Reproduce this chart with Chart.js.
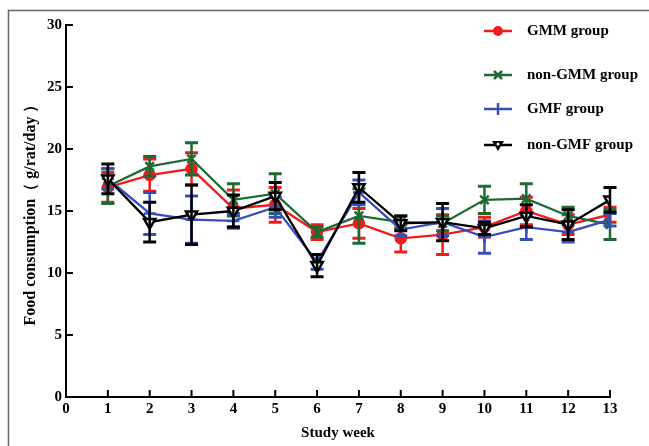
<!DOCTYPE html>
<html>
<head>
<meta charset="utf-8">
<script src="https://cdn.jsdelivr.net/npm/chart.js@4/dist/chart.umd.min.js"></script>
<style>
html,body{margin:0;padding:0;background:#fff;}
#wrap{width:649px;height:446px;position:relative;}
</style>
</head>
<body>
<div id="wrap"><canvas id="c" width="649" height="446"></canvas></div>
<script>
const weeks = [1,2,3,4,5,6,7,8,9,10,11,12,13];
const seriesNames = ['GMM group','non-GMM group','GMF group','non-GMF group'];
const gmmMean    = [16.9,17.9,18.4,15.2,15.5,13.3,14.0,12.8,13.1,13.7,15.0,13.9,14.7];
const gmmSD      = [1.2,1.3,1.3,1.5,1.4,0.6,1.2,1.1,1.6,0.8,1.1,0.8,0.6];
const nonGmmMean = [17.0,18.6,19.2,15.9,16.4,13.3,14.6,14.1,14.0,15.9,16.0,14.6,13.9];
const nonGmmSD   = [1.4,0.8,1.3,1.3,1.6,0.4,2.2,0.5,0.6,1.1,1.2,0.7,1.2];
const gmfMean    = [17.6,14.8,14.3,14.2,15.3,10.9,16.5,13.5,14.1,12.9,13.7,13.3,14.3];
const gmfSD      = [0.8,1.7,1.9,0.6,0.8,0.6,1.0,0.5,1.1,1.3,1.0,0.8,0.5];
const nonGmfMean = [17.6,14.1,14.7,15.0,16.2,10.6,16.9,14.0,14.1,13.6,14.6,13.9,15.9];
const nonGmfSD   = [1.2,1.6,2.4,1.3,1.1,0.9,1.2,0.6,1.5,0.5,0.9,1.2,1.0];
const xTicks = [0,1,2,3,4,5,6,7,8,9,10,11,12,13];
const yTicks = [0,5,10,15,20,25,30];

const colors = ['#f01c1c','#1f6a32','#3450b8','#000000'];
const styles = ['circle','crossRot','cross','triangle'];
const means = [gmmMean,nonGmmMean,gmfMean,nonGmfMean];
const sds = [gmmSD,nonGmmSD,gmfSD,nonGmfSD];
const FONT = "'Liberation Serif','Times New Roman',serif";

const datasets = means.map((m,i)=>({
  label: seriesNames[i],
  data: weeks.map((w,j)=>({x:w,y:m[j]})),
  sd: sds[i],
  borderColor: colors[i],
  backgroundColor: i===3 ? '#ffffff' : colors[i],
  borderWidth: 2.3,
  pointStyle: styles[i],
  pointRadius: i===3 ? 6.5 : (i===0 ? 5 : 6),
  pointBorderWidth: 2.5,
  pointRotation: i===3 ? 180 : 0,
  pointBorderColor: colors[i],
  pointBackgroundColor: i===3 ? '#ffffff' : colors[i],
  tension: 0,
  order: 4-i
}));

const frame = {
  id:'frame',
  beforeDraw(chart){
    const ctx = chart.ctx;
    ctx.save();
    ctx.strokeStyle = '#666';
    ctx.lineWidth = 1.5;
    ctx.beginPath();
    ctx.moveTo(8.5, 460);
    ctx.lineTo(8.5, 10.5);
    ctx.lineTo(660, 10.5);
    ctx.stroke();
    ctx.restore();
  }
};

const errorBars = {
  id:'errorBars',
  afterDatasetDraw(chart, args){
    const ds = chart.data.datasets[args.index];
    const ys = chart.scales.y, xs = chart.scales.x;
    const ctx = chart.ctx;
    ctx.save();
    ctx.strokeStyle = ds.borderColor;
    ds.data.forEach((p,j)=>{
      const x = xs.getPixelForValue(p.x);
      const y1 = ys.getPixelForValue(p.y + ds.sd[j]);
      const y2 = ys.getPixelForValue(p.y - ds.sd[j]);
      ctx.lineWidth = 2.5;
      ctx.beginPath();
      ctx.moveTo(x,y1); ctx.lineTo(x,y2);
      ctx.stroke();
      ctx.lineWidth = 3;
      ctx.beginPath();
      ctx.moveTo(x-6.5,y1); ctx.lineTo(x+6.5,y1);
      ctx.moveTo(x-6.5,y2); ctx.lineTo(x+6.5,y2);
      ctx.stroke();
    });
    ctx.restore();
  }
};

const inwardTicks = {
  id:'inwardTicks',
  afterDraw(chart){
    const ctx = chart.ctx;
    const xs = chart.scales.x, ys = chart.scales.y;
    const a = chart.chartArea;
    ctx.save();
    ctx.strokeStyle = '#000';
    ctx.lineWidth = 2;
    ctx.beginPath();
    xTicks.forEach(v=>{
      if(v===0) return;
      const x = xs.getPixelForValue(v);
      ctx.moveTo(x, a.bottom); ctx.lineTo(x, a.bottom-7);
    });
    yTicks.forEach(v=>{
      if(v===0) return;
      const y = ys.getPixelForValue(v);
      ctx.moveTo(a.left, y); ctx.lineTo(a.left+7, y);
    });
    ctx.stroke();
    ctx.restore();
  }
};

const legendPos = [31, 75, 109, 145];
const customLegend = {
  id:'customLegend',
  afterDraw(chart){
    const ctx = chart.ctx;
    ctx.save();
    seriesNames.forEach((name,i)=>{
      const y = legendPos[i];
      const c = colors[i];
      ctx.strokeStyle = c; ctx.fillStyle = c;
      ctx.lineWidth = 2.5;
      ctx.beginPath(); ctx.moveTo(484,y); ctx.lineTo(512,y); ctx.stroke();
      const cx = 498;
      if(styles[i]==='circle'){
        ctx.beginPath(); ctx.arc(cx,y,5,0,Math.PI*2); ctx.fill();
      } else if(styles[i]==='crossRot'){
        ctx.beginPath();
        ctx.moveTo(cx-4,y-4); ctx.lineTo(cx+4,y+4);
        ctx.moveTo(cx-4,y+4); ctx.lineTo(cx+4,y-4);
        ctx.stroke();
      } else if(styles[i]==='cross'){
        ctx.beginPath();
        ctx.moveTo(cx,y-6); ctx.lineTo(cx,y+6);
        ctx.stroke();
      } else {
        ctx.fillStyle = '#000';
        ctx.beginPath();
        ctx.moveTo(cx-6,y-4); ctx.lineTo(cx+6,y-4); ctx.lineTo(cx,y+6); ctx.closePath();
        ctx.fill();
        ctx.fillStyle = '#fff';
        ctx.beginPath(); ctx.arc(cx,y-1,1.5,0,Math.PI*2); ctx.fill();
      }
      ctx.fillStyle = '#000';
      ctx.font = "bold 15px " + FONT;
      ctx.textBaseline = 'middle';
      ctx.textAlign = 'left';
      ctx.fillText(name, 527, y);
    });
    ctx.restore();
  }
};

new Chart(document.getElementById('c'), {
  type:'line',
  data:{datasets},
  options:{
    responsive:false,
    animation:false,
    layout:{padding:{left:0,top:25,right:39,bottom:0}},
    plugins:{legend:{display:false},tooltip:{enabled:false}},
    scales:{
      x:{
        type:'linear', min:0, max:13,
        afterBuildTicks(s){ s.ticks = xTicks.map(v=>({value:v})); },
        afterFit(s){ s.height = 49; },
        ticks:{color:'#000', padding:3, font:{family:FONT, size:15, weight:'bold'}, maxRotation:0, autoSkip:false},
        grid:{drawOnChartArea:false, drawTicks:false},
        border:{display:true, color:'#000', width:2},
        title:{display:true, text:'Study week', color:'#000', font:{family:FONT, size:15, weight:'bold'}, padding:{top:4,bottom:4}}
      },
      y:{
        type:'linear', min:0, max:30,
        afterBuildTicks(s){ s.ticks = yTicks.map(v=>({value:v})); },
        afterFit(s){ s.width = 66; },
        ticks:{color:'#000', padding:4, font:{family:FONT, size:15, weight:'bold'}},
        grid:{drawOnChartArea:false, drawTicks:false},
        border:{display:true, color:'#000', width:2},
        title:{display:true, text:'Food consumption（ g/rat/day ）', color:'#000', font:{family:FONT, size:16, weight:'bold'}, padding:{top:21,bottom:0}}
      }
    }
  },
  plugins:[frame, errorBars, inwardTicks, customLegend]
});
</script>
</body>
</html>
